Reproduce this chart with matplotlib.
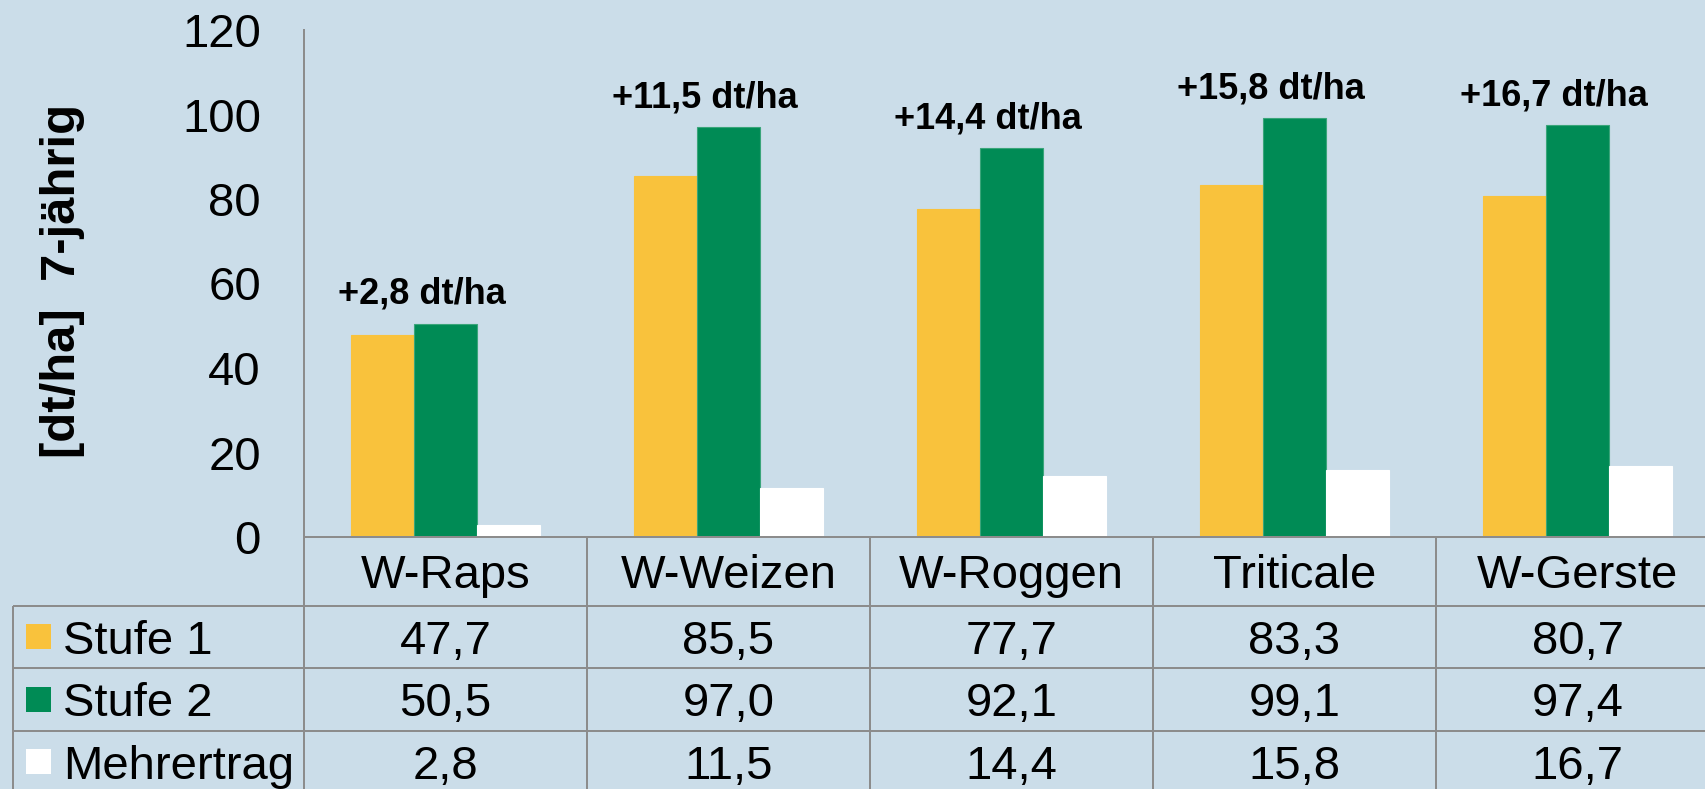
import matplotlib
matplotlib.use('Agg')
import matplotlib.pyplot as plt
from matplotlib.patches import Rectangle
import numpy as np

# ---------------- data ----------------
categories = ['W-Raps', 'W-Weizen', 'W-Roggen', 'Triticale', 'W-Gerste']
stufe1 = [47.7, 85.5, 77.7, 83.3, 80.7]
stufe2 = [50.5, 97.0, 92.1, 99.1, 97.4]
mehrertrag = [2.8, 11.5, 14.4, 15.8, 16.7]
series_names = ['Stufe 1', 'Stufe 2', 'Mehrertrag']
yticks = [0, 20, 40, 60, 80, 100, 120]
ylabel = '[dt/ha]  7-jährig'

# ---------------- style ----------------
BG = '#cbdde9'
colors = ['#f9c23c', '#008b55', '#ffffff']
edges = ['#f9c23c', '#3aa57a', '#ffffff']
GRID = '#8c8c8c'
FS = 34

plt.rcParams['font.family'] = ['Liberation Sans', 'DejaVu Sans']

W, H = 1706, 789
fig = plt.figure(figsize=(W / 100, H / 100), dpi=100, facecolor=BG)

x0_px, cw_px = 304, 283          # axis x position, category column width
base_px, top_px = 537, 30        # y=0 and y=120 (pixels from top)
bottom_px = 793                  # table bottom (pixels from top)

ax_left = x0_px / W
ax_w = 5 * cw_px / W
ax = fig.add_axes([ax_left, (H - base_px) / H, ax_w, (base_px - top_px) / H])
ax.set_facecolor(BG)

x = np.arange(len(categories))
bw = 63 / cw_px
series = [stufe1, stufe2, mehrertrag]
for i, (vals, c, ec) in enumerate(zip(series, colors, edges)):
    ax.bar(x + (i - 1) * bw, vals, width=bw, color=c, edgecolor=ec,
           linewidth=0.8, zorder=2)

ax.set_xlim(-0.5, len(categories) - 0.5)
ax.set_ylim(0, 120)
ax.set_yticks(yticks)
ax.set_yticklabels([str(t) for t in yticks], fontsize=FS)
ax.tick_params(axis='y', length=0, pad=31)
ax.set_xticks([])
for s in ['top', 'right', 'bottom']:
    ax.spines[s].set_visible(False)
ax.spines['left'].set_color(GRID)
ax.spines['left'].set_linewidth(1.44)

# difference annotations
for i, m in enumerate(mehrertrag):
    lab = '+' + f'{m:.1f}'.replace('.', ',') + ' dt/ha'
    ax.text(x[i] - 0.085, stufe2[i] + 4.7, lab, ha='center', va='baseline',
            fontsize=26, fontweight='bold', zorder=3)

fig.text(63 / W, 1 - 281 / H, ylabel, rotation=90, ha='center', va='center',
         fontsize=35.3, fontweight='bold')

# ---------------- data table ----------------
tax = fig.add_axes([ax_left, (H - bottom_px) / H, ax_w,
                    (bottom_px - base_px) / H])
tax.set_xlim(-0.5, len(categories) - 0.5)
tax.set_ylim(bottom_px - base_px, 0)
tax.axis('off')


def px2x(px):
    return -0.5 + (px - x0_px) / cw_px


row_lines = [0, 69, 131, 194, bottom_px - base_px]
xl = px2x(12.7)
xr = len(categories) - 0.5
lkw = dict(color=GRID, linewidth=1.44, clip_on=False, solid_capstyle='butt')
tax.plot([-0.5, xr], [0, 0], **lkw)
for yy in row_lines[1:4]:
    tax.plot([xl, xr], [yy, yy], **lkw)
for k in range(len(categories) + 1):
    tax.plot([-0.5 + k, -0.5 + k], [0, row_lines[-1]], **lkw)
tax.plot([xl, xl], [row_lines[1], row_lines[-1]], **lkw)

# header row
hc = (row_lines[0] + row_lines[1]) / 2
for i, cat in enumerate(categories):
    tax.text(x[i], hc + 17, cat, ha='center', va='baseline', fontsize=FS,
             clip_on=False)

# value rows with legend keys
for r, (name, vals, c) in enumerate(zip(series_names, series, colors)):
    rc = (row_lines[r + 1] + row_lines[r + 2]) / 2
    tax.add_patch(Rectangle((px2x(26), rc - 13), 25 / cw_px, 25,
                            facecolor=c, edgecolor='none', clip_on=False))
    tax.text(px2x(63), rc + 17, name, ha='left', va='baseline', fontsize=FS,
             clip_on=False)
    for i, v in enumerate(vals):
        tax.text(x[i], rc + 17, f'{v:.1f}'.replace('.', ','), ha='center',
                 va='baseline', fontsize=FS, clip_on=False)

fig.savefig('out.png', dpi=100, facecolor=BG)
